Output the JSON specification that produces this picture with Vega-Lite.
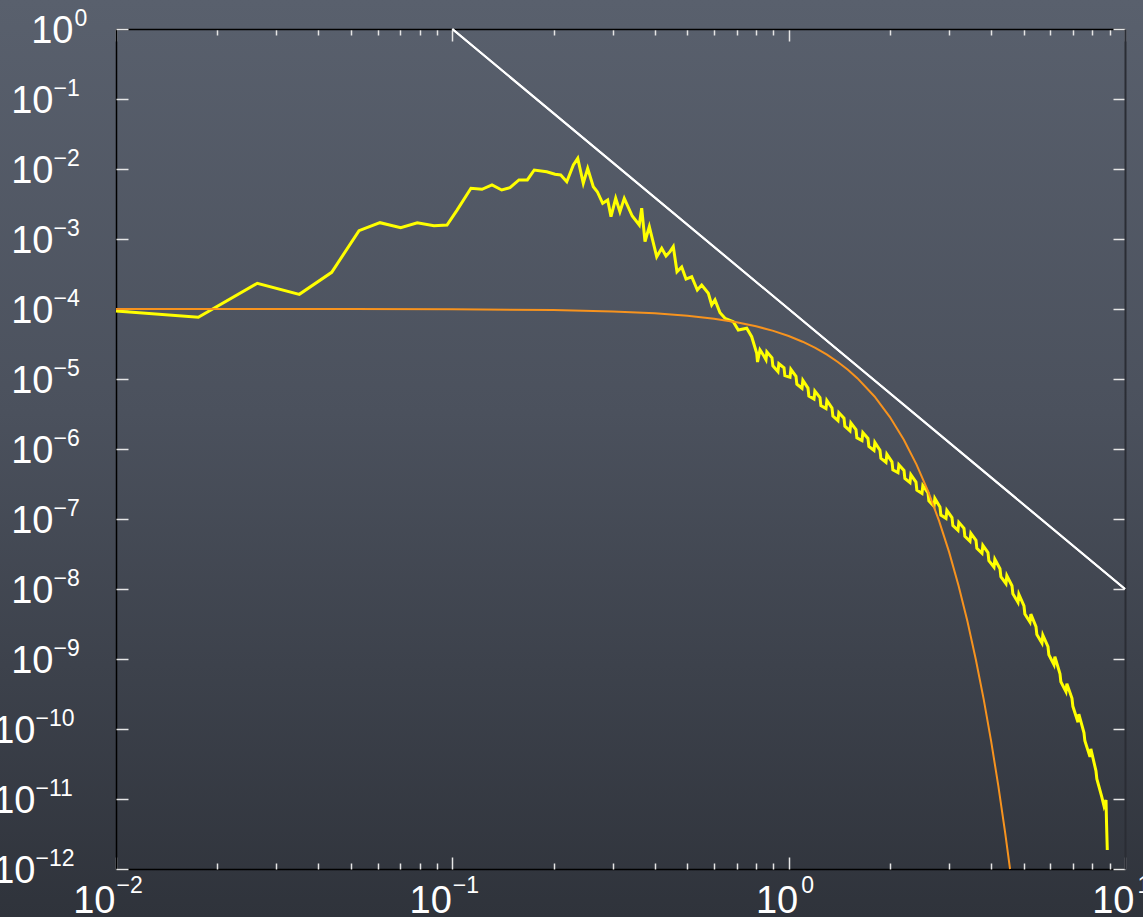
{
  "$schema": "https://vega.github.io/schema/vega-lite/v6.json",
  "width": 1143,
  "height": 917,
  "autosize": {"type": "none"},
  "padding": 0,
  "background": "#454a55",
  "config": {
    "view": {
      "stroke": null,
      "fill": {"gradient": "linear", "x1": 0, "y1": 0, "x2": 0, "y2": 1,
        "stops": [{"offset": 0, "color": "#59606d"}, {"offset": 0.45, "color": "#4b515d"}, {"offset": 1, "color": "#2f333b"}]}
    },
    "axis": {"grid": false, "labelFont": "Liberation Sans", "labelColor": "#ffffff", "labelOverlap": false, "labelFlush": false, "labelBound": false}
  },
  "datasets": {
    "spectrum": [
      {"k": 0.01, "p": 9.36e-5}, {"k": 0.01757, "p": 7.61e-5}, {"k": 0.02631, "p": 2.33e-4}, {"k": 0.03508, "p": 1.62e-4},
      {"k": 0.04378, "p": 3.34e-4}, {"k": 0.05279, "p": 1.315e-3}, {"k": 0.06095, "p": 1.71e-3}, {"k": 0.07022, "p": 1.45e-3},
      {"k": 0.07866, "p": 1.71e-3}, {"k": 0.0882, "p": 1.55e-3}, {"k": 0.09643, "p": 1.585e-3}, {"k": 0.1033, "p": 2.59e-3},
      {"k": 0.1136, "p": 5.3e-3}, {"k": 0.1225, "p": 5.13e-3}, {"k": 0.1312, "p": 5.91e-3}, {"k": 0.1402, "p": 5.01e-3},
      {"k": 0.1484, "p": 5.41e-3}, {"k": 0.1578, "p": 6.97e-3}, {"k": 0.1671, "p": 6.97e-3}, {"k": 0.1752, "p": 9.68e-3},
      {"k": 0.1908, "p": 9.15e-3}, {"k": 0.202, "p": 8.4e-3}, {"k": 0.21, "p": 8.21e-3}, {"k": 0.2189, "p": 6.59e-3},
      {"k": 0.229, "p": 1.14e-2}, {"k": 0.236, "p": 1.42e-2}, {"k": 0.2451, "p": 6.25e-3}, {"k": 0.2526, "p": 1.02e-2},
      {"k": 0.2625, "p": 5.58e-3}, {"k": 0.2698, "p": 4.74e-3}, {"k": 0.2799, "p": 3.24e-3}, {"k": 0.2897, "p": 3.61e-3},
      {"k": 0.2963, "p": 2.08e-3}, {"k": 0.306, "p": 3.81e-3}, {"k": 0.315, "p": 2.45e-3}, {"k": 0.3245, "p": 3.81e-3},
      {"k": 0.3427, "p": 2.13e-3}, {"k": 0.3596, "p": 1.585e-3}, {"k": 0.3656, "p": 2.75e-3}, {"k": 0.374, "p": 9.15e-4},
      {"k": 0.3852, "p": 1.5e-3}, {"k": 0.4052, "p": 5.58e-4}, {"k": 0.4193, "p": 7.36e-4}, {"k": 0.4318, "p": 5.71e-4},
      {"k": 0.4438, "p": 6.59e-4}, {"k": 0.4539, "p": 7.76e-4}, {"k": 0.4656, "p": 3.41e-4}, {"k": 0.4808, "p": 3.98e-4},
      {"k": 0.4952, "p": 2.68e-4}, {"k": 0.5149, "p": 2.89e-4}, {"k": 0.5351, "p": 1.87e-4}, {"k": 0.5514, "p": 2.2e-4},
      {"k": 0.5769, "p": 1.68e-4}, {"k": 0.5904, "p": 1.14e-4}, {"k": 0.6039, "p": 1.35e-4}, {"k": 0.625, "p": 8.85e-5},
      {"k": 0.6467, "p": 7.36e-5}, {"k": 0.6844, "p": 6.59e-5}, {"k": 0.7083, "p": 5.01e-5}, {"k": 0.7504, "p": 5.3e-5},
      {"k": 0.7764, "p": 4.02e-5}, {"k": 0.8035, "p": 2.33e-5}, {"k": 0.808, "p": 1.75e-5}, {"k": 0.8217, "p": 2.6e-5},
      {"k": 0.8406, "p": 2.2e-5},
      {"k": 0.8562, "p": 1.881e-5}, {"k": 0.8613, "p": 2.448e-5}, {"k": 0.8921, "p": 2.009e-5}, {"k": 0.8975, "p": 1.544e-5},
      {"k": 0.9295, "p": 1.271e-5}, {"k": 0.9351, "p": 1.654e-5}, {"k": 0.9685, "p": 1.45e-5}, {"k": 0.9743, "p": 1.114e-5},
      {"k": 1.0091, "p": 1.057e-5}, {"k": 1.0152, "p": 1.375e-5}, {"k": 1.0514, "p": 1.093e-5}, {"k": 1.0577, "p": 8.4e-6},
      {"k": 1.0955, "p": 7.365e-6}, {"k": 1.1021, "p": 9.584e-6}, {"k": 1.1414, "p": 7.413e-6}, {"k": 1.1482, "p": 5.697e-6},
      {"k": 1.1893, "p": 5.162e-6}, {"k": 1.1964, "p": 6.717e-6}, {"k": 1.2392, "p": 5.441e-6}, {"k": 1.2466, "p": 4.181e-6},
      {"k": 1.2911, "p": 3.79e-6}, {"k": 1.2988, "p": 4.932e-6}, {"k": 1.3453, "p": 3.853e-6}, {"k": 1.3534, "p": 2.961e-6},
      {"k": 1.4017, "p": 2.537e-6}, {"k": 1.4101, "p": 3.301e-6}, {"k": 1.4604, "p": 2.754e-6}, {"k": 1.4692, "p": 2.116e-6},
      {"k": 1.5217, "p": 1.814e-6}, {"k": 1.5308, "p": 2.361e-6}, {"k": 1.5855, "p": 1.887e-6}, {"k": 1.595, "p": 1.45e-6},
      {"k": 1.652, "p": 1.318e-6}, {"k": 1.6619, "p": 1.715e-6}, {"k": 1.7212, "p": 1.413e-6}, {"k": 1.7315, "p": 1.086e-6},
      {"k": 1.7934, "p": 9.55e-7}, {"k": 1.8042, "p": 1.243e-6}, {"k": 1.8686, "p": 9.58e-7}, {"k": 1.8798, "p": 7.362e-7},
      {"k": 1.9469, "p": 6.457e-7}, {"k": 1.9586, "p": 8.403e-7}, {"k": 2.0286, "p": 6.542e-7}, {"k": 2.0408, "p": 5.027e-7},
      {"k": 2.1136, "p": 4.585e-7}, {"k": 2.1263, "p": 5.967e-7}, {"k": 2.2023, "p": 4.931e-7}, {"k": 2.2155, "p": 3.789e-7},
      {"k": 2.2946, "p": 3.301e-7}, {"k": 2.3084, "p": 4.296e-7}, {"k": 2.3908, "p": 3.366e-7}, {"k": 2.4051, "p": 2.587e-7},
      {"k": 2.4911, "p": 2.313e-7}, {"k": 2.506, "p": 3.01e-7}, {"k": 2.5955, "p": 2.367e-7}, {"k": 2.6111, "p": 1.819e-7},
      {"k": 2.7044, "p": 1.514e-7}, {"k": 2.7206, "p": 1.97e-7}, {"k": 2.8178, "p": 1.484e-7}, {"k": 2.8347, "p": 1.14e-7},
      {"k": 2.9359, "p": 1.023e-7}, {"k": 2.9535, "p": 1.331e-7}, {"k": 3.059, "p": 1.047e-7}, {"k": 3.0774, "p": 8.046e-8},
      {"k": 3.1873, "p": 6.874e-8}, {"k": 3.2064, "p": 8.945e-8}, {"k": 3.3209, "p": 7.365e-8}, {"k": 3.3408, "p": 5.66e-8},
      {"k": 3.4602, "p": 4.801e-8}, {"k": 3.481, "p": 6.248e-8}, {"k": 3.6053, "p": 4.963e-8}, {"k": 3.6269, "p": 3.814e-8},
      {"k": 3.7565, "p": 3.236e-8}, {"k": 3.779, "p": 4.211e-8}, {"k": 3.914, "p": 3.311e-8}, {"k": 3.9375, "p": 2.544e-8},
      {"k": 4.0781, "p": 2.048e-8}, {"k": 4.1026, "p": 2.665e-8}, {"k": 4.2491, "p": 1.95e-8}, {"k": 4.2746, "p": 1.498e-8},
      {"k": 4.4273, "p": 1.19e-8}, {"k": 4.4539, "p": 1.549e-8}, {"k": 4.6129, "p": 1.115e-8}, {"k": 4.6406, "p": 8.568e-9},
      {"k": 4.8063, "p": 6.457e-9}, {"k": 4.8351, "p": 8.403e-9}, {"k": 5.0079, "p": 5.716e-9}, {"k": 5.0379, "p": 4.393e-9},
      {"k": 5.2178, "p": 3.366e-9}, {"k": 5.2491, "p": 4.38e-9}, {"k": 5.4366, "p": 2.903e-9}, {"k": 5.4692, "p": 2.231e-9},
      {"k": 5.6646, "p": 1.681e-9}, {"k": 5.6986, "p": 2.187e-9}, {"k": 5.9021, "p": 1.499e-9}, {"k": 5.9375, "p": 1.152e-9},
      {"k": 6.1496, "p": 8.29e-10}, {"k": 6.1865, "p": 1.079e-9}, {"k": 6.4074, "p": 6.166e-10}, {"k": 6.4458, "p": 4.738e-10},
      {"k": 6.6761, "p": 3.411e-10}, {"k": 6.7162, "p": 4.439e-10}, {"k": 6.9561, "p": 2.745e-10}, {"k": 6.9978, "p": 2.109e-10},
      {"k": 7.2477, "p": 1.251e-10}, {"k": 7.2912, "p": 1.628e-10}, {"k": 7.5516, "p": 8.826e-11}, {"k": 7.5969, "p": 6.782e-11},
      {"k": 7.8683, "p": 3.993e-11}, {"k": 7.9155, "p": 5.196e-11}, {"k": 8.1982, "p": 2.512e-11}, {"k": 8.2474, "p": 1.93e-11},
      {"k": 8.527, "p": 1.079e-11}, {"k": 8.662, "p": 7.943e-12}, {"k": 8.781, "p": 9.68e-12}, {"k": 8.811, "p": 4.69e-12},
      {"k": 8.859, "p": 1.867e-12}
    ],
    "cutoff": [
      {"k": 0.01, "p": 1e-4}, {"k": 0.05, "p": 9.998e-5}, {"k": 0.1, "p": 9.911e-5}, {"k": 0.2, "p": 9.65e-5},
      {"k": 0.3, "p": 9.23e-5}, {"k": 0.4, "p": 8.67e-5}, {"k": 0.5, "p": 8.01e-5}, {"k": 0.6, "p": 7.26e-5},
      {"k": 0.7, "p": 6.47e-5}, {"k": 0.8, "p": 5.66e-5}, {"k": 0.9, "p": 4.87e-5}, {"k": 1.0, "p": 4.11e-5},
      {"k": 1.1, "p": 3.41e-5}, {"k": 1.2, "p": 2.78e-5}, {"k": 1.3, "p": 2.23e-5}, {"k": 1.4, "p": 1.75e-5},
      {"k": 1.5, "p": 1.353e-5}, {"k": 1.6, "p": 1.027e-5}, {"k": 1.8, "p": 5.62e-6}, {"k": 2.0, "p": 2.858e-6},
      {"k": 2.2, "p": 1.354e-6}, {"k": 2.4, "p": 5.98e-7}, {"k": 2.6, "p": 2.46e-7}, {"k": 2.8, "p": 9.41e-8},
      {"k": 3.0, "p": 3.36e-8}, {"k": 3.2, "p": 1.115e-8}, {"k": 3.4, "p": 3.45e-9}, {"k": 3.6, "p": 9.94e-10},
      {"k": 3.8, "p": 2.67e-10}, {"k": 4.0, "p": 6.67e-11}, {"k": 4.2, "p": 1.552e-11}, {"k": 4.4, "p": 3.37e-12},
      {"k": 4.552, "p": 1e-12}
    ],
    "powerlaw": [
      {"k": 0.1, "p": 1}, {"k": 10, "p": 1e-8}
    ]
  },
  "resolve": {"axis": {"x": "independent", "y": "independent"}},
  "layer": [
    {
      "data": {"name": "spectrum"},
      "mark": {"type": "line", "color": "#ffff00", "strokeWidth": 3},
      "encoding": {
        "x": {"field": "k", "type": "quantitative", "scale": {"type": "log", "domain": [0.01, 10], "nice": false, "range": [116, 1125]},
          "axis": {"orient": "bottom", "offset": -48, "title": null, "values": [0.01, 0.1, 1, 10], "ticks": false, "domain": true, "domainColor": "#000000", "domainWidth": 1.5,
            "labelExpr": "'10'", "labelFontSize": 38, "labelAlign": "right", "labelBaseline": "alphabetic", "labelPadding": 43,
            "labelOffset": {"expr": "datum.value < 0.5 ? -1 : 9"}}},
        "y": {"field": "p", "type": "quantitative", "scale": {"type": "log", "domain": [1e-12, 1], "nice": false, "range": [869, 29]},
          "axis": {"orient": "left", "offset": -116, "title": null, "values": [1e-12, 1e-11, 1e-10, 1e-9, 1e-8, 1e-7, 1e-6, 1e-5, 1e-4, 1e-3, 1e-2, 1e-1, 1],
            "ticks": false, "domain": true, "domainColor": "#000000", "domainWidth": 1.5,
            "labelExpr": "'10'", "labelFontSize": 38, "labelAlign": "right", "labelBaseline": "alphabetic", "labelOffset": 13,
            "labelPadding": {"expr": "datum.value > 0.5 ? 43 : (datum.value > 5e-10 ? 63 : 81)"}}}
      }
    },
    {
      "data": {"name": "cutoff"},
      "mark": {"type": "line", "color": "#f7931e", "strokeWidth": 2},
      "encoding": {
        "x": {"field": "k", "type": "quantitative", "scale": {"type": "log", "domain": [0.01, 10], "nice": false, "range": [116, 1125]},
          "axis": {"orient": "bottom", "offset": -48, "title": null, "values": [0.01, 0.1, 1, 10], "ticks": false, "domain": false,
            "labelExpr": "(round(log(datum.value)/LN10) < 0 ? '−' : '') + abs(round(log(datum.value)/LN10))",
            "labelFontSize": 23, "labelAlign": "left", "labelBaseline": "alphabetic", "labelPadding": 23,
            "labelOffset": {"expr": "datum.value < 0.5 ? 0 : 12"}}},
        "y": {"field": "p", "type": "quantitative", "scale": {"type": "log", "domain": [1e-12, 1], "nice": false, "range": [869, 29]},
          "axis": {"orient": "left", "offset": -116, "title": null, "values": [1e-12, 1e-11, 1e-10, 1e-9, 1e-8, 1e-7, 1e-6, 1e-5, 1e-4, 1e-3, 1e-2, 1e-1, 1],
            "ticks": false, "domain": false,
            "labelExpr": "(round(log(datum.value)/LN10) < 0 ? '−' : '') + abs(round(log(datum.value)/LN10))",
            "labelFontSize": 23, "labelAlign": "left", "labelBaseline": "alphabetic", "labelOffset": -4,
            "labelPadding": {"expr": "datum.value > 0.5 ? 42 : (datum.value > 5e-10 ? 63 : 81)"}}}
      }
    },
    {
      "data": {"name": "powerlaw"},
      "mark": {"type": "line", "color": "#ffffff", "strokeWidth": 2},
      "encoding": {
        "x": {"field": "k", "type": "quantitative", "scale": {"type": "log", "domain": [0.01, 10], "nice": false, "range": [116, 1125]},
          "axis": {"orient": "bottom", "offset": -48, "title": null, "labels": false, "domain": false, "ticks": true, "tickColor": "#e6e6e6", "tickWidth": 1.5,
            "values": [0.01, 0.02, 0.03, 0.04, 0.05, 0.06, 0.07, 0.08, 0.09, 0.1, 0.2, 0.3, 0.4, 0.5, 0.6, 0.7, 0.8, 0.9, 1, 2, 3, 4, 5, 6, 7, 8, 9, 10],
            "tickSize": {"expr": "abs(log(datum.value)/LN10 - round(log(datum.value)/LN10)) < 0.001 ? -12 : -6"}}},
        "y": {"field": "p", "type": "quantitative", "scale": {"type": "log", "domain": [1e-12, 1], "nice": false, "range": [869, 29]},
          "axis": {"orient": "left", "offset": -116, "title": null, "labels": false, "domain": false, "ticks": true, "tickColor": "#e6e6e6", "tickWidth": 1.5, "tickSize": -12,
            "values": [1e-12, 1e-11, 1e-10, 1e-9, 1e-8, 1e-7, 1e-6, 1e-5, 1e-4, 1e-3, 1e-2, 1e-1, 1]}}
      }
    },
    {
      "data": {"name": "powerlaw"},
      "mark": {"type": "line", "color": "#ffffff", "strokeWidth": 2},
      "encoding": {
        "x": {"field": "k", "type": "quantitative", "scale": {"type": "log", "domain": [0.01, 10], "nice": false, "range": [116, 1125]},
          "axis": {"orient": "top", "offset": -29, "title": null, "labels": false, "domain": true, "domainColor": "#000000", "domainWidth": 1.5,
            "ticks": true, "tickColor": "#e6e6e6", "tickWidth": 1.5,
            "values": [0.01, 0.02, 0.03, 0.04, 0.05, 0.06, 0.07, 0.08, 0.09, 0.1, 0.2, 0.3, 0.4, 0.5, 0.6, 0.7, 0.8, 0.9, 1, 2, 3, 4, 5, 6, 7, 8, 9, 10],
            "tickSize": {"expr": "abs(log(datum.value)/LN10 - round(log(datum.value)/LN10)) < 0.001 ? -12 : -6"}}},
        "y": {"field": "p", "type": "quantitative", "scale": {"type": "log", "domain": [1e-12, 1], "nice": false, "range": [869, 29]},
          "axis": {"orient": "right", "offset": -18, "title": null, "labels": false, "domain": true, "domainColor": "#2a2d34", "domainWidth": 2,
            "ticks": true, "tickColor": "#e6e6e6", "tickWidth": 1.5, "tickSize": -12,
            "values": [1e-12, 1e-11, 1e-10, 1e-9, 1e-8, 1e-7, 1e-6, 1e-5, 1e-4, 1e-3, 1e-2, 1e-1, 1]}}
      }
    }
  ]
}
